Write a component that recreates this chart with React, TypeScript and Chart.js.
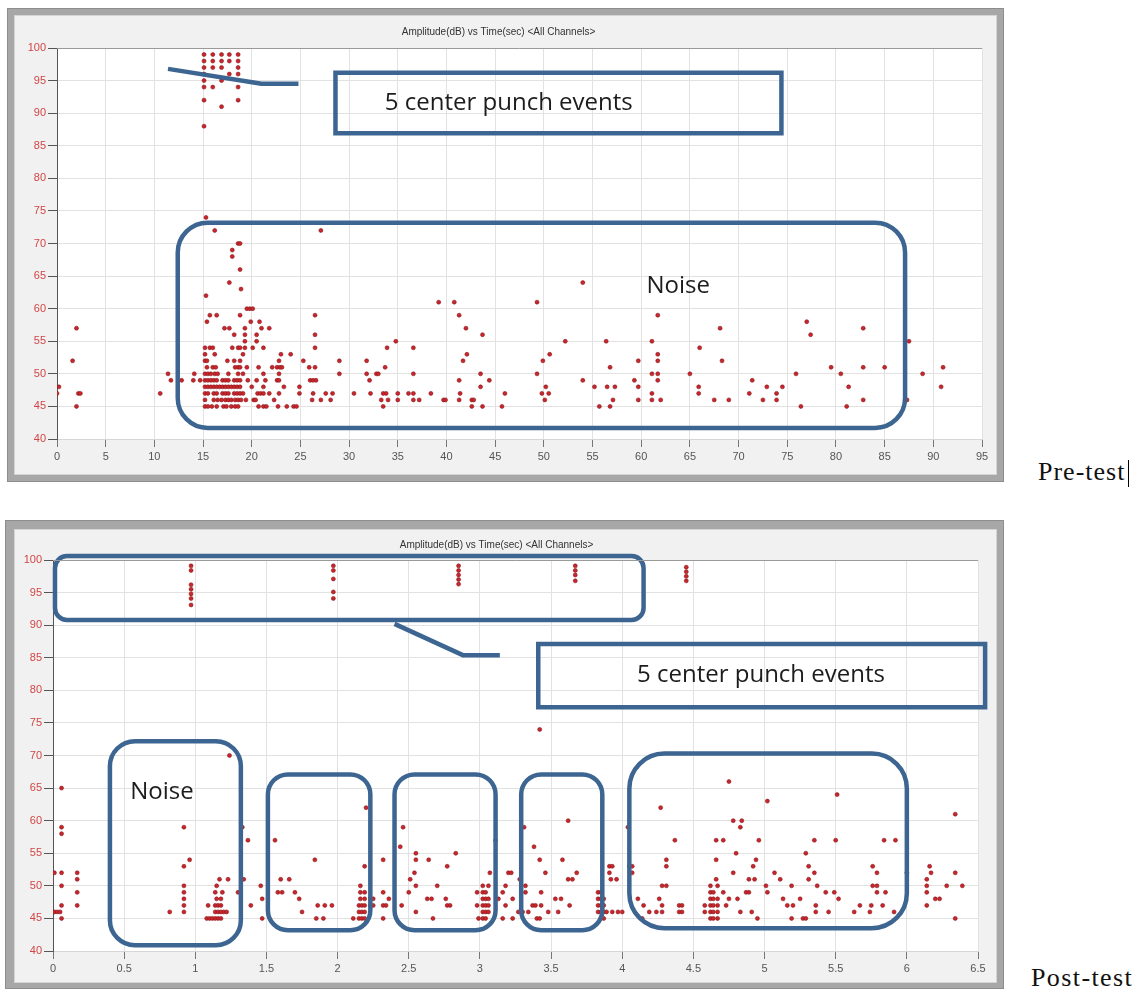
import React, { useEffect, useRef } from "react";
import { Chart, registerables } from "chart.js";
Chart.register(...registerables);

type P = [number, number];

const TITLE = "Amplitude(dB) vs Time(sec) <All Channels>";
const PRE_LABEL = "Pre-test";
const POST_LABEL = "Post-test";
const EVENTS_TEXT = "5 center punch events";
const NOISE_TEXT = "Noise";

// ---------- Pre-test data (time s, amplitude dB) ----------
const preBurst: P[] = [
  [15.1, 99], [15.1, 98], [15.1, 97], [15.1, 96], [15.1, 95], [15.1, 94], [15.1, 92], [15.1, 88],
  [16.0, 99], [16.0, 98], [16.0, 97], [16.0, 94],
  [16.9, 99], [16.9, 98], [16.9, 97], [16.9, 95], [16.9, 91],
  [17.7, 99], [17.7, 98], [17.7, 96],
  [18.6, 99], [18.6, 98], [18.6, 97], [18.6, 96], [18.6, 94], [18.6, 92],
];
const preEarly: P[] = [
  [0, 47], [0.2, 48], [1.6, 52], [2.0, 57], [2.0, 45], [2.2, 47], [2.4, 47], [10.6, 47],
  [11.4, 50], [11.7, 49], [12.8, 49], [14.0, 49], [14.1, 50], [14.7, 49],
];
const preHigh: P[] = [
  [15.3, 74], [16.2, 72], [27.1, 72], [18.6, 70], [18.8, 70], [18.0, 69], [18.0, 68], [18.8, 66],
  [17.7, 64], [18.9, 63], [15.3, 62], [19.5, 60], [19.8, 60], [20.1, 60], [15.7, 59], [16.4, 59],
  [18.8, 59], [26.5, 59], [15.4, 58], [19.9, 58], [20.8, 58], [17.2, 57], [17.7, 57], [19.3, 57],
  [21.0, 57], [21.8, 57], [18.2, 56], [19.3, 56], [20.5, 56], [26.5, 56], [19.3, 55], [20.5, 55],
];
const preT54 = [15.2, 15.7, 16.0, 18.0, 18.6, 18.8, 19.3, 20.1, 21.2, 26.5];
const preT53 = [15.2, 16.2, 19.1, 23.0, 24.0];
const preT52 = [15.2, 15.4, 17.5, 18.2, 18.8, 22.8, 25.3, 29.0, 31.8];
const preT51 = [15.4, 16.0, 16.3, 18.3, 18.6, 18.8, 19.5, 20.7, 22.1, 22.6, 22.9, 23.1, 25.9, 26.5, 33.7];
const preT50 = [15.2, 15.5, 15.8, 16.2, 16.5, 17.6, 18.6, 19.1, 21.2, 22.8, 29.0, 31.8, 32.8, 33.0];
const preT49 = [15.2, 15.5, 15.8, 16.1, 16.4, 17.0, 17.3, 17.6, 18.2, 18.5, 18.8, 19.6, 20.5, 21.4, 22.6, 22.8, 26.0, 26.3, 26.6, 32.1];
const preT48 = [15.2, 15.5, 15.8, 16.1, 16.4, 16.7, 17.0, 17.3, 17.6, 17.9, 18.2, 18.5, 18.8, 20.0, 21.2, 23.3, 24.9];
const preT47 = [15.2, 15.5, 16.1, 16.4, 17.0, 17.3, 17.6, 18.2, 18.5, 18.8, 19.1, 20.6, 20.9, 21.2, 21.8, 22.8, 24.9, 26.3, 27.6, 28.3, 30.5, 32.2, 33.5, 33.8];
const preT46 = [15.2, 16.1, 16.5, 16.9, 17.3, 17.6, 17.9, 18.3, 18.6, 18.9, 19.4, 20.2, 20.4, 22.3, 26.2, 27.1, 28.1, 33.3, 34.0];
const preT45 = [15.2, 15.5, 15.9, 16.4, 17.1, 17.4, 17.9, 18.3, 18.6, 20.7, 21.2, 21.5, 22.7, 23.6, 24.3, 24.6, 33.5];
const preSpread: P[] = [
  [34.8, 55], [33.9, 54], [35.0, 47], [35.0, 46], [36.1, 47], [36.6, 47], [36.6, 46], [37.2, 46],
  [36.6, 54], [36.6, 50], [38.4, 47], [39.2, 61], [39.7, 46], [39.9, 46], [40.8, 61], [41.3, 59],
  [42.0, 57], [42.1, 53], [41.7, 52], [41.3, 49], [41.4, 47], [41.3, 46], [42.6, 46], [42.8, 46],
  [42.6, 45], [43.7, 56], [43.5, 50], [43.5, 48], [44.4, 49], [43.7, 45], [45.7, 45], [46.0, 47],
  [49.3, 61], [49.9, 52], [50.6, 53], [49.3, 50], [50.2, 48], [49.8, 47], [50.5, 47], [50.1, 46],
  [52.2, 55], [54.0, 64], [54.0, 49], [55.2, 48], [55.7, 45], [56.4, 55], [56.8, 51], [56.5, 48],
  [57.3, 48], [57.1, 46], [56.8, 45], [59.7, 52], [59.3, 49], [59.7, 48], [59.7, 46], [61.1, 55],
  [61.7, 59], [61.7, 53], [61.7, 52], [61.1, 50], [61.7, 50], [61.7, 49], [61.1, 47], [61.1, 46],
  [62.0, 46], [65.0, 50], [66.0, 54], [65.9, 48], [65.9, 47], [67.5, 46], [68.1, 57], [68.3, 52],
  [69.0, 46], [71.1, 47], [71.4, 49], [72.5, 46], [72.9, 48], [73.9, 47], [73.9, 46], [74.5, 48],
  [75.9, 50], [76.4, 45], [77.0, 58], [77.4, 56], [79.5, 51], [80.5, 50], [81.3, 48], [81.1, 45],
  [82.8, 57], [82.8, 51], [82.8, 46], [85.0, 51], [87.5, 55], [87.3, 46], [88.9, 50], [90.8, 48],
  [91.0, 51],
];

// ---------- Post-test data (time s, amplitude dB) ----------
const postBurst: P[] = [
  [0.97, 99.1], [0.97, 98.4], [0.97, 96.2], [0.97, 95.5], [0.97, 94.8], [0.97, 94.1], [0.97, 93.1],
  [1.97, 99.1], [1.97, 98.4], [1.97, 97.1], [1.97, 95.1], [1.97, 94.1],
  [2.85, 99.1], [2.85, 98.4], [2.85, 97.7], [2.85, 97.0], [2.85, 96.3],
  [3.67, 99.1], [3.67, 98.4], [3.67, 97.7], [3.67, 96.8],
  [4.45, 98.9], [4.45, 98.2], [4.45, 97.5], [4.45, 96.8],
];
const postA: P[] = [
  [0.01, 46], [0.03, 46], [0.05, 46], [0.01, 52], [0.06, 52], [0.06, 65], [0.06, 59], [0.06, 58],
  [0.06, 50], [0.06, 47], [0.06, 45], [0.17, 52], [0.17, 51], [0.17, 49], [0.17, 47],
  [0.82, 46], [0.92, 59], [0.92, 53], [0.96, 54], [0.92, 50], [0.92, 49], [0.92, 48], [0.92, 47], [0.92, 46],
  [1.09, 47], [1.08, 45], [1.10, 45], [1.12, 45], [1.14, 45], [1.16, 45], [1.18, 45], [1.14, 46],
  [1.16, 46], [1.18, 46], [1.20, 46], [1.22, 46], [1.14, 47], [1.16, 47], [1.18, 47], [1.15, 48],
  [1.18, 48], [1.14, 49], [1.19, 49], [1.15, 50], [1.17, 51], [1.23, 51],
  [1.24, 70], [1.30, 49], [1.33, 59], [1.34, 51], [1.37, 57], [1.39, 47], [1.46, 50], [1.47, 48], [1.47, 45],
];
const postB: P[] = [
  [1.56, 57], [1.60, 51], [1.66, 51], [1.58, 49], [1.61, 49], [1.70, 49], [1.73, 48], [1.75, 46],
  [1.84, 54], [1.86, 47], [1.91, 47], [1.96, 47], [1.85, 45], [1.90, 45],
  [2.11, 45], [2.15, 45], [2.17, 45], [2.19, 45], [2.15, 46], [2.17, 46], [2.19, 46], [2.15, 47],
  [2.17, 47], [2.19, 47], [2.16, 48], [2.19, 48], [2.16, 49], [2.19, 49], [2.16, 50], [2.20, 62],
  [2.19, 53], [2.23, 48], [2.25, 48], [2.23, 47], [2.25, 47],
  [2.32, 54], [2.32, 49], [2.32, 47], [2.34, 47], [2.32, 45], [2.36, 48], [2.44, 56],
];
const postC: P[] = [
  [2.46, 59], [2.45, 47], [2.50, 49], [2.51, 51], [2.54, 52], [2.55, 55], [2.55, 54], [2.55, 50],
  [2.55, 46], [2.64, 54], [2.63, 48], [2.66, 48], [2.67, 45], [2.70, 50], [2.77, 53], [2.83, 55],
  [2.76, 48], [2.77, 47], [2.79, 47],
  [2.98, 49], [2.98, 47], [2.99, 45], [3.02, 50], [3.02, 49], [3.02, 48], [3.02, 47], [3.02, 46],
  [3.02, 45], [3.04, 49], [3.04, 48], [3.04, 47], [3.04, 46], [3.04, 45], [3.06, 50], [3.06, 48],
  [3.06, 47], [3.06, 46], [3.07, 52], [3.11, 57], [3.13, 48], [3.16, 49], [3.18, 47], [3.16, 45],
  [3.20, 52], [3.22, 52], [3.18, 50], [3.23, 48], [3.23, 45], [3.27, 46], [3.30, 46], [3.34, 46],
  [3.28, 51], [3.31, 59],
];
const postD: P[] = [
  [3.42, 74], [3.32, 50], [3.32, 49], [3.38, 56], [3.37, 47], [3.39, 47], [3.43, 47], [3.40, 45],
  [3.42, 45], [3.42, 54], [3.43, 49], [3.46, 52], [3.48, 46], [3.53, 48], [3.57, 48], [3.55, 46],
  [3.58, 54], [3.62, 60], [3.62, 51], [3.65, 51], [3.63, 47], [3.68, 52],
  [3.83, 49], [3.83, 48], [3.83, 47], [3.83, 46], [3.85, 49], [3.85, 48], [3.85, 47], [3.85, 46],
  [3.85, 45], [3.87, 48], [3.87, 47], [3.87, 46], [3.87, 45], [3.89, 46], [3.91, 53], [3.93, 53],
  [3.91, 52], [3.92, 51], [3.96, 51], [3.93, 46], [3.97, 46], [4.00, 46], [4.04, 59], [4.05, 53],
  [4.07, 53], [4.07, 52],
];
const postE: P[] = [
  [4.11, 48], [4.15, 47], [4.14, 45], [4.19, 46], [4.26, 48], [4.24, 46], [4.28, 46], [4.27, 62],
  [4.28, 47], [4.28, 50], [4.31, 50], [4.31, 54], [4.31, 53], [4.37, 57], [4.40, 47], [4.42, 47],
  [4.40, 46], [4.42, 46],
  [4.58, 47], [4.58, 46], [4.62, 50], [4.62, 49], [4.62, 48], [4.62, 47], [4.62, 46], [4.62, 45],
  [4.64, 49], [4.64, 48], [4.64, 47], [4.64, 46], [4.64, 45], [4.67, 50], [4.67, 48], [4.67, 47],
  [4.67, 46], [4.67, 45], [4.66, 57], [4.71, 57], [4.66, 54], [4.66, 51], [4.71, 49], [4.73, 47],
  [4.75, 66], [4.78, 60], [4.84, 60], [4.83, 59], [4.80, 55], [4.78, 52], [4.75, 48], [4.81, 48],
  [4.83, 46], [4.87, 49], [4.89, 49], [4.89, 51], [4.93, 51], [4.92, 53], [4.94, 54], [4.96, 57],
  [5.01, 50], [5.02, 63], [5.02, 49], [4.91, 46], [4.95, 45], [5.07, 52], [5.11, 51],
];
const postF: P[] = [
  [5.13, 48], [5.16, 47], [5.20, 47], [5.19, 50], [5.19, 45], [5.25, 48], [5.27, 45], [5.29, 45],
  [5.29, 55], [5.31, 53], [5.31, 51], [5.35, 52], [5.35, 57], [5.36, 47], [5.36, 46], [5.37, 50],
  [5.43, 49], [5.45, 46], [5.50, 57], [5.51, 64], [5.49, 49], [5.52, 48], [5.63, 46], [5.67, 47],
  [5.74, 46], [5.75, 47], [5.76, 53], [5.79, 52], [5.76, 50], [5.79, 50], [5.79, 49], [5.83, 47],
  [5.84, 57], [5.92, 57], [5.85, 49], [5.91, 46], [6.00, 52],
  [6.14, 51], [6.14, 50], [6.14, 49], [6.14, 47], [6.16, 53], [6.17, 52], [6.20, 48], [6.23, 48],
  [6.28, 50], [6.34, 61], [6.34, 52], [6.34, 45], [6.39, 50],
];

const row = (times: number[], amp: number): P[] => times.map((t) => [t, amp] as P);

const prePoints: P[] = [
  ...preEarly, ...preBurst, ...preHigh,
  ...row(preT54, 54), ...row(preT53, 53), ...row(preT52, 52), ...row(preT51, 51), ...row(preT50, 50),
  ...row(preT49, 49), ...row(preT48, 48), ...row(preT47, 47), ...row(preT46, 46), ...row(preT45, 45),
  ...preSpread,
];
const postPoints: P[] = [...postBurst, ...postA, ...postB, ...postC, ...postD, ...postE, ...postF];

// ---------- Annotations (in data units) ----------
type Note =
  | { kind: "box"; x0: number; x1: number; y0: number; y1: number; r: number }
  | { kind: "line"; pts: P[] }
  | { kind: "text"; x: number; y: number; text: string };

const preNotes: Note[] = [
  { kind: "box", x0: 12.4, x1: 87.1, y0: 41.7, y1: 73.2, r: 30 },
  { kind: "box", x0: 28.6, x1: 74.4, y0: 86.9, y1: 96.2, r: 0 },
  { kind: "line", pts: [[11.4, 96.8], [21.0, 94.5], [24.8, 94.5]] },
  { kind: "text", x: 46.4, y: 91.6, text: EVENTS_TEXT },
  { kind: "text", x: 63.8, y: 63.5, text: NOISE_TEXT },
];
const postNotes: Note[] = [
  { kind: "box", x0: 0.014, x1: 4.15, y0: 90.8, y1: 100.6, r: 12 },
  { kind: "line", pts: [[2.4, 90.2], [2.88, 85.4], [3.14, 85.4]] },
  { kind: "box", x0: 3.41, x1: 6.55, y0: 77.4, y1: 87.1, r: 0 },
  { kind: "text", x: 4.975, y: 82.3, text: EVENTS_TEXT },
  { kind: "box", x0: 0.4, x1: 1.32, y0: 40.9, y1: 72.2, r: 25 },
  { kind: "text", x: 0.766, y: 64.3, text: NOISE_TEXT },
  { kind: "box", x0: 1.51, x1: 2.23, y0: 43.2, y1: 67.1, r: 20 },
  { kind: "box", x0: 2.4, x1: 3.11, y0: 43.2, y1: 67.1, r: 20 },
  { kind: "box", x0: 3.29, x1: 3.86, y0: 43.2, y1: 67.1, r: 20 },
  { kind: "box", x0: 4.05, x1: 6.0, y0: 43.5, y1: 70.3, r: 35 },
];

const NOTE_COLOR = "#3d6591";

const notesPlugin = {
  id: "notes",
  beforeDraw(chart: any) {
    const { ctx, chartArea: a, width, height } = chart;
    ctx.save();
    ctx.fillStyle = "#f1f1f1";
    ctx.fillRect(0, 0, width, height);
    ctx.fillStyle = "#ffffff";
    ctx.fillRect(a.left, a.top, a.right - a.left, a.bottom - a.top);
    ctx.restore();
  },
  afterDraw(chart: any) {
    const { ctx, chartArea: a } = chart;
    ctx.save();
    ctx.strokeStyle = "#9a9a9a";
    ctx.lineWidth = 1;
    ctx.beginPath();
    ctx.moveTo(a.left, a.top + 0.5);
    ctx.lineTo(a.right, a.top + 0.5);
    ctx.stroke();
    ctx.restore();
  },
  afterDatasetsDraw(chart: any, _args: any, opts: any) {
    const items: Note[] = (opts && opts.items) || [];
    const { ctx } = chart;
    const xs = chart.scales.x;
    const ys = chart.scales.y;
    const px = (v: number) => xs.getPixelForValue(v);
    const py = (v: number) => ys.getPixelForValue(v);
    ctx.save();
    ctx.strokeStyle = NOTE_COLOR;
    ctx.lineWidth = 4.5;
    ctx.lineJoin = "round";
    ctx.lineCap = "butt";
    for (const n of items) {
      if (n.kind === "box") {
        const l = px(n.x0), r = px(n.x1), t = py(n.y1), b = py(n.y0);
        const rad = n.r;
        ctx.beginPath();
        if (rad > 0) {
          ctx.moveTo(l + rad, t);
          ctx.arcTo(r, t, r, b, rad);
          ctx.arcTo(r, b, l, b, rad);
          ctx.arcTo(l, b, l, t, rad);
          ctx.arcTo(l, t, r, t, rad);
          ctx.closePath();
        } else {
          ctx.lineJoin = "miter";
          ctx.rect(l, t, r - l, b - t);
        }
        ctx.stroke();
        ctx.lineJoin = "round";
      } else if (n.kind === "line") {
        ctx.beginPath();
        n.pts.forEach(([x, y], i) => (i === 0 ? ctx.moveTo(px(x), py(y)) : ctx.lineTo(px(x), py(y))));
        ctx.stroke();
      } else {
        ctx.fillStyle = "#1c1c1c";
        ctx.font = "24px 'Open Sans', 'Noto Sans', sans-serif";
        ctx.textAlign = "center";
        ctx.textBaseline = "middle";
        ctx.fillText(n.text, px(n.x), py(n.y));
      }
    }
    ctx.restore();
  },
};

type PlotProps = {
  points: P[];
  xMax: number;
  xStep: number;
  notes: Note[];
  width: number;
  height: number;
  yW: number;
  xH: number;
  padRight: number;
  titlePad: number;
};

function Plot(props: PlotProps) {
  const ref = useRef<HTMLCanvasElement>(null);
  useEffect(() => {
    if (!ref.current) return;
    const { points, xMax, xStep, notes, yW, xH, padRight, titlePad } = props;
    const chart = new Chart(ref.current, {
      type: "scatter",
      data: {
        datasets: [
          {
            data: points.map(([x, y]) => ({ x, y })),
            pointRadius: 2,
            pointHoverRadius: 2,
            pointBackgroundColor: "#c8262b",
            pointBorderColor: "#8a1a1f",
            pointBorderWidth: 0.6,
            showLine: false,
          },
        ],
      },
      options: {
        animation: false,
        responsive: false,
        events: [],
        layout: { padding: { left: 0, right: padRight, top: 0, bottom: 0 } },
        plugins: {
          legend: { display: false },
          tooltip: { enabled: false },
          title: {
            display: true,
            text: TITLE,
            color: "#333",
            font: { family: "'Liberation Sans', Arial, sans-serif", size: 10, weight: "normal" },
            padding: { top: titlePad, bottom: titlePad },
          },
          notes: { items: notes },
        } as any,
        scales: {
          x: {
            type: "linear",
            min: 0,
            max: xMax,
            ticks: {
              stepSize: xStep,
              color: "#555",
              padding: 3,
              font: { family: "'Liberation Sans', Arial, sans-serif", size: 11 },
              maxRotation: 0,
              autoSkip: false,
              callback: (v: any) => String(Math.round(Number(v) * 100) / 100),
            },
            grid: { color: "#e2e2e2", tickColor: "#777", tickLength: 8, lineWidth: 1 },
            border: { color: "#d6d6d6" },
            afterFit: (s: any) => {
              s.height = xH;
            },
          },
          y: {
            type: "linear",
            min: 40,
            max: 100,
            ticks: {
              stepSize: 5,
              color: "#d24545",
              padding: 2,
              font: { family: "'Liberation Sans', Arial, sans-serif", size: 11 },
            },
            grid: { color: "#e2e2e2", tickColor: "#555", tickLength: 9, lineWidth: 1 },
            border: { color: "#555", width: 1 },
            afterFit: (s: any) => {
              s.width = yW;
            },
          },
        },
      } as any,
      plugins: [notesPlugin as any],
    });
    return () => chart.destroy();
  }, []);
  return <canvas ref={ref} width={props.width} height={props.height} style={{ display: "block" }} />;
}

const frameOuter: React.CSSProperties = {
  position: "absolute",
  background: "#a7a7a7",
  boxShadow: "inset 0 0 0 1px #8d8d8d",
};

export default function App() {
  return (
    <div style={{ position: "absolute", left: 0, top: 0, width: 1136, height: 994, background: "#fff" }}>
      <div style={{ ...frameOuter, left: 7, top: 8, width: 997, height: 474 }}>
        <div style={{ position: "absolute", left: 8, top: 8, width: 981, height: 458, outline: "1px solid #d4d4d4" }}>
          <Plot points={prePoints} xMax={95} xStep={5} notes={preNotes} width={981} height={458} yW={42} xH={35} padRight={14} titlePad={10} />
        </div>
      </div>
      <div
        style={{
          position: "absolute", left: 1038, top: 459, fontFamily: "'Liberation Serif', 'Times New Roman', serif",
          fontSize: 26, lineHeight: "26px", letterSpacing: 1, color: "#111", whiteSpace: "nowrap",
        }}
      >
        {PRE_LABEL}
      </div>
      <div style={{ position: "absolute", left: 1128, top: 460, width: 1, height: 27, background: "#000" }} />

      <div style={{ ...frameOuter, left: 5, top: 520, width: 999, height: 469 }}>
        <div style={{ position: "absolute", left: 10, top: 10, width: 981, height: 452, outline: "1px solid #d4d4d4" }}>
          <Plot points={postPoints} xMax={6.5} xStep={0.5} notes={postNotes} width={981} height={452} yW={38} xH={31} padRight={18} titlePad={9} />
        </div>
      </div>
      <div
        style={{
          position: "absolute", left: 1031, top: 965, fontFamily: "'Liberation Serif', 'Times New Roman', serif",
          fontSize: 26, lineHeight: "26px", letterSpacing: 1.4, color: "#111", whiteSpace: "nowrap",
        }}
      >
        {POST_LABEL}
      </div>
    </div>
  );
}
